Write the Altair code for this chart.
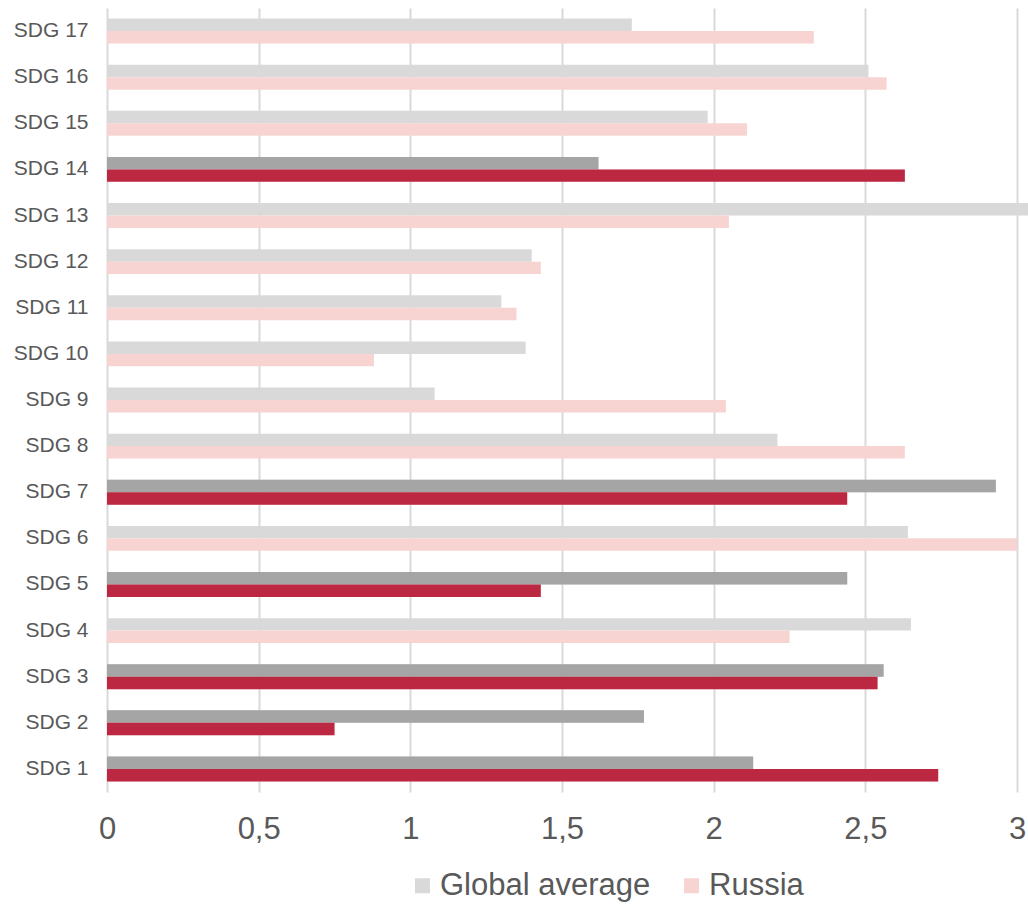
import altair as alt
import pandas as pd

sdgs = [f"SDG {i}" for i in range(1, 18)]
global_avg = [2.13, 1.77, 2.56, 2.65, 2.44, 2.64, 2.93, 2.21, 1.08, 1.38, 1.30, 1.40, 3.20, 1.62, 1.98, 2.51, 1.73]
russia = [2.74, 0.75, 2.54, 2.25, 1.43, 3.00, 2.44, 2.63, 2.04, 0.88, 1.35, 1.43, 2.05, 2.63, 2.11, 2.57, 2.33]
highlighted = ["SDG 1", "SDG 2", "SDG 3", "SDG 5", "SDG 7", "SDG 14"]
series_names = ["Global average", "Russia"]
light_colors = ["#d9d9d9", "#f7d4d2"]
dark_colors = ["#a5a5a5", "#bc2742"]

rows = []
for i, s in enumerate(sdgs):
    for j, (name, vals) in enumerate(zip(series_names, [global_avg, russia])):
        rows.append({
            "sdg": s,
            "series": name,
            "value": vals[i],
            "hl": s in highlighted,
            "dark": dark_colors[j],
        })
df = pd.DataFrame(rows)

order = list(reversed(sdgs))
font = "Liberation Sans"
txt = "#595959"

y_enc = alt.Y("sdg:N", sort=order,
              scale=alt.Scale(domain=order, paddingInner=0.46, paddingOuter=0.23),
              axis=alt.Axis(title=None, ticks=False, domain=False, labelFont=font,
                            labelFontSize=21, labelColor=txt, labelPadding=19, grid=False))
yoff = alt.YOffset("series:N", sort=series_names, scale=alt.Scale(domain=series_names, paddingInner=0, paddingOuter=0))
x_enc = alt.X("value:Q",
              scale=alt.Scale(domain=[0, 3.036], nice=False, zero=True),
              axis=alt.Axis(title=None, values=[0, 0.5, 1, 1.5, 2, 2.5, 3], format=".1~f",
                            labelExpr="replace(format(datum.value, '.1~f'), '.', ',')",
                            labelFont=font, labelFontSize=31, labelColor=txt, labelPadding=22,
                            labelFlush=False, labelOverlap=False,
                            ticks=False, domain=False, grid=True, gridColor="#d9d9d9", gridWidth=2))

base = alt.Chart(df).mark_bar(clip=True).encode(
    y=y_enc, yOffset=yoff, x=x_enc,
    color=alt.Color("series:N", sort=series_names,
                    scale=alt.Scale(domain=series_names, range=light_colors),
                    legend=alt.Legend(title=None, orient="none", direction="horizontal",
                                      legendX=300, legendY=862, symbolType="square",
                                      symbolSize=225, symbolStrokeWidth=0,
                                      labelFont=font, labelFontSize=31, labelColor=txt,
                                      labelLimit=0, columnPadding=25, labelOffset=2)),
)

over = alt.Chart(df).transform_filter("datum.hl").mark_bar(clip=True).encode(
    y=y_enc, yOffset=yoff, x=x_enc,
    color=alt.Color("dark:N", scale=None),
)

chart = alt.layer(base, over).properties(
    width=921, height=784,
    autosize=alt.AutoSizeParams(type="none"),
    padding={"left": 107, "top": 8, "right": 0, "bottom": 115},
).configure_view(stroke=None)

chart.save("out.html", embed_options={"renderer": "svg", "actions": False})
